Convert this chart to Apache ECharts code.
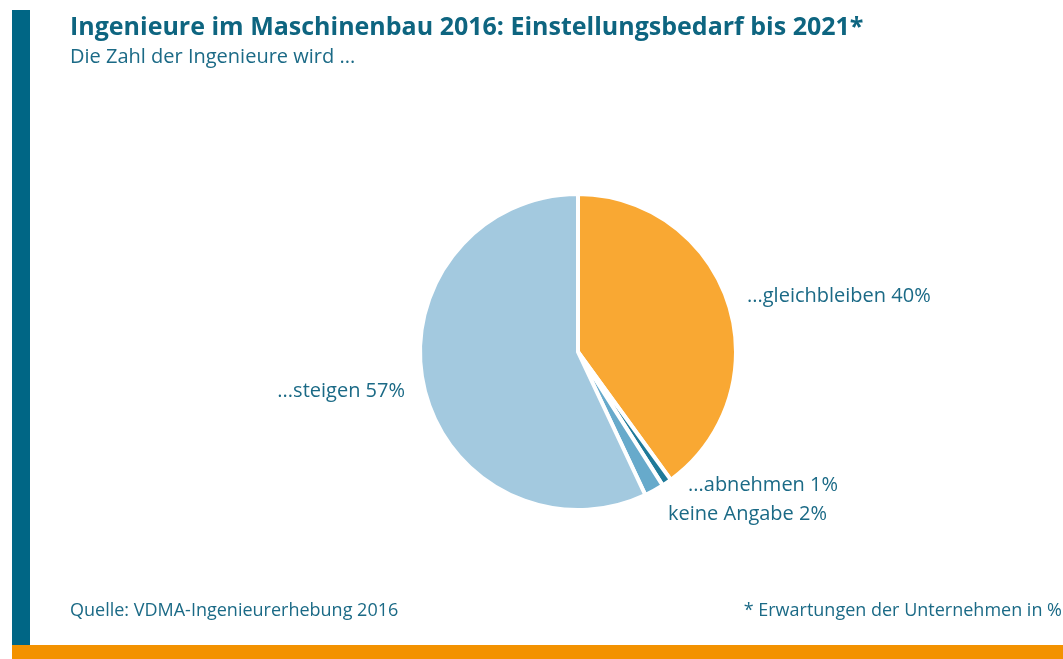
<!DOCTYPE html>
<html>
<head>
<meta charset="utf-8">
<script src="https://cdn.jsdelivr.net/npm/echarts@6/dist/echarts.min.js"></script>
<style>
  html, body { margin: 0; padding: 0; background: #fff; }
  #chart { width: 1063px; height: 659px; }
</style>
</head>
<body>
<div id="chart"></div>
<script>
// data (clockwise from 12 o'clock)
var categories = ['...gleichbleiben', '...abnehmen', 'keine Angabe', '...steigen'];
var shares = [40, 1, 2, 57];
var sliceColors = ['#F9A833', '#1F7A99', '#67AACB', '#A3C9DF'];

var teal = '#1B6A86';
var font = 'Open Sans';

// where the text of each slice sits (labels only, no marks)
var labelSpots = [
    {x: 747, y: 296, align: 'left'},
    {x: 688, y: 485, align: 'left'},
    {x: 668, y: 514, align: 'left'},
    {x: 405, y: 391, align: 'right'}
];

var pieData = [];
for (var i = 0; i < categories.length; i++) {
    pieData.push({
        name: categories[i],
        value: shares[i],
        itemStyle: {color: sliceColors[i]}
    });
}

var chart = echarts.init(document.getElementById('chart'));

var option = {
    animation: false,
    textStyle: {fontFamily: font},
    graphic: [
        {type: 'rect', shape: {x: 12, y: 10, width: 18, height: 636}, style: {fill: '#006685'}},
        {type: 'rect', shape: {x: 12, y: 645, width: 1051, height: 14}, style: {fill: '#F39200'}},
        {
            type: 'text', left: 70, top: 15,
            style: {text: 'Ingenieure im Maschinenbau 2016: Einstellungsbedarf bis 2021*', fill: '#0E6580',
                font: 'bold 25px "Open Sans"'}
        },
        {
            type: 'text', left: 70, top: 47,
            style: {text: 'Die Zahl der Ingenieure wird ...', fill: teal, font: '20px "Open Sans"'}
        },
        {
            type: 'text', left: 70, top: 602,
            style: {text: 'Quelle: VDMA-Ingenieurerhebung 2016', fill: teal, font: '18px "Open Sans"'}
        },
        {
            type: 'text', right: 1, top: 602,
            style: {text: '* Erwartungen der Unternehmen in %', fill: teal, font: '18px "Open Sans"'}
        }
    ],
    series: [
        {
            type: 'pie',
            center: [578, 352],
            radius: [0, 158],
            startAngle: 90,
            clockwise: true,
            data: pieData,
            itemStyle: {borderColor: '#fff', borderWidth: 4},
            label: {
                show: true,
                position: 'outside',
                formatter: function (p) {
                    return p.name + ' ' + p.value + '%';
                },
                color: teal,
                fontSize: 20,
                fontFamily: font
            },
            labelLine: {show: false},
            labelLayout: function (params) {
                var s = labelSpots[params.dataIndex];
                return {x: s.x, y: s.y, align: s.align, verticalAlign: 'middle'};
            }
        }
    ]
};

chart.setOption(option);
</script>
</body>
</html>
